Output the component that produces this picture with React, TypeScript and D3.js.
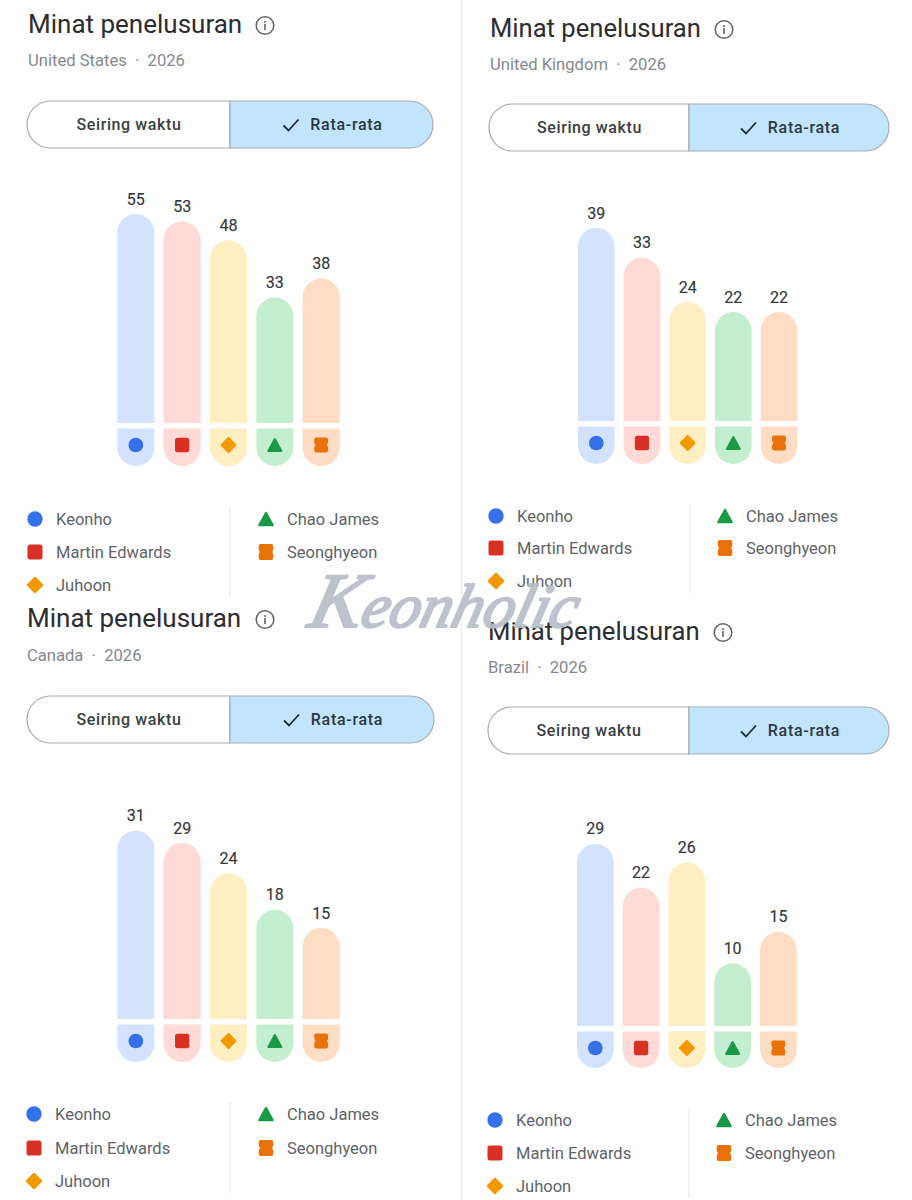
import React from "react";
import * as d3 from "d3";

const names = ["Keonho", "Martin Edwards", "Juhoon", "Chao James", "Seonghyeon"];
const barFills = ["#d3e3fd", "#ffdad6", "#feeec2", "#c4eed0", "#ffdcc4"];
const iconFills = ["#3470e8", "#d93025", "#f29900", "#1a9a45", "#e8710a"];
const countries = ["United States", "United Kingdom", "Canada", "Brazil"];
const usValues = [55, 53, 48, 33, 38];
const ukValues = [39, 33, 24, 22, 22];
const caValues = [31, 29, 24, 18, 15];
const brValues = [29, 22, 26, 10, 15];
const panelValues = [usValues, ukValues, caValues, brValues];
const FONT = "Roboto, 'Noto Sans', sans-serif";

type Layout = {
  x0: number; titleY: number; subY: number; tLeft: number; tRight: number; tTop: number; tBottom: number; split: number;
  barsL: number; barsR: number; base: number; capBottom: number; pxPerUnit: number;
  legendY: number[]; swatchX: number; col2X: number; divX: number; titleSize: number; infoOffset: number;
};
const layouts: Layout[] = [
  { x0: 28, titleY: 24, subY: 60, tLeft: 27, tRight: 433, tTop: 101, tBottom: 148, split: 230, barsL: 117.3, barsR: 339.7, base: 423, capBottom: 466, pxPerUnit: 3.8, legendY: [519, 552, 585], swatchX: 35, col2X: 266, divX: 230, titleSize: 26, infoOffset: 237 },
  { x0: 490, titleY: 28, subY: 64, tLeft: 489, tRight: 889, tTop: 104, tBottom: 151, split: 689, barsL: 578, barsR: 797.3, base: 421, capBottom: 464, pxPerUnit: 4.95, legendY: [516, 548, 581], swatchX: 496, col2X: 725, divX: 690, titleSize: 25.6, infoOffset: 234 },
  { x0: 27, titleY: 618, subY: 655, tLeft: 27, tRight: 434, tTop: 696, tBottom: 743, split: 230, barsL: 117.3, barsR: 339.7, base: 1019, capBottom: 1062, pxPerUnit: 6.07, legendY: [1114, 1148, 1181], swatchX: 34, col2X: 266, divX: 230, titleSize: 26, infoOffset: 238 },
  { x0: 488, titleY: 631, subY: 667, tLeft: 488, tRight: 889, tTop: 707, tBottom: 754, split: 689, barsL: 577, barsR: 796.7, base: 1026, capBottom: 1068, pxPerUnit: 6.28, legendY: [1120, 1153, 1186], swatchX: 495, col2X: 724, divX: 689, titleSize: 25.7, infoOffset: 235 },
];

function topRounded(x: number, w: number, top: number, bottom: number) {
  const r = w / 2;
  return `M${x},${bottom}V${top + r}A${r},${r} 0 0 1 ${x + w},${top + r}V${bottom}Z`;
}
function bottomRounded(x: number, w: number, top: number, bottom: number) {
  const r = w / 2;
  return `M${x},${top}H${x + w}V${bottom - r}A${r},${r} 0 0 1 ${x},${bottom - r}Z`;
}

function Icon({ i, cx, cy, s = 1 }: { i: number; cx: number; cy: number; s?: number }) {
  const fill = iconFills[i];
  const common = { fill, stroke: fill, strokeLinejoin: "round" as const };
  if (i === 0) return <circle cx={cx} cy={cy} r={7.2 * s} fill={fill} />;
  if (i === 1) return <rect x={cx - 7 * s} y={cy - 7 * s} width={14 * s} height={14 * s} rx={2.5} fill={fill} />;
  if (i === 2) {
    const d = 6.8 * s;
    return <path d={`M${cx},${cy - d}L${cx + d},${cy}L${cx},${cy + d}L${cx - d},${cy}Z`} strokeWidth={2} {...common} />;
  }
  if (i === 3) {
    return <path d={`M${cx},${cy - 5.8 * s}L${cx + 6.4 * s},${cy + 5.8 * s}H${cx - 6.4 * s}Z`} strokeWidth={2} {...common} />;
  }
  const w = 6.8 * s, h = 7.4 * s, n = 1.4 * s;
  return (
    <path
      fill={fill}
      d={`M${cx - w},${cy - h + 2}Q${cx - w},${cy - h} ${cx - w + 2},${cy - h}H${cx + w - 2}Q${cx + w},${cy - h} ${cx + w},${cy - h + 2}V${cy - 3}Q${cx + w},${cy - 1} ${cx + w - n},${cy}Q${cx + w},${cy + 1} ${cx + w},${cy + 3}V${cy + h - 2}Q${cx + w},${cy + h} ${cx + w - 2},${cy + h}H${cx - w + 2}Q${cx - w},${cy + h} ${cx - w},${cy + h - 2}V${cy + 3}Q${cx - w},${cy + 1} ${cx - w + n},${cy}Q${cx - w},${cy - 1} ${cx - w},${cy - 3}Z`}
    />
  );
}

function Panel({ idx }: { idx: number }) {
  const L = layouts[idx];
  const values = panelValues[idx];
  const x = d3.scaleBand<number>().domain(d3.range(values.length)).range([L.barsL, L.barsR]).paddingInner(0.2).paddingOuter(0);
  const y = d3.scaleLinear().domain([0, 1]).range([L.base, L.base - L.pxPerUnit]);
  const w = x.bandwidth();
  const tMid = (L.tTop + L.tBottom) / 2;
  const tH = L.tBottom - L.tTop;
  const r = tH / 2;
  const leftD = `M${L.split},${L.tTop}H${L.tLeft + r}A${r},${r} 0 0 0 ${L.tLeft + r},${L.tBottom}H${L.split}Z`;
  const rightD = `M${L.split},${L.tTop}H${L.tRight - r}A${r},${r} 0 0 1 ${L.tRight - r},${L.tBottom}H${L.split}Z`;
  const infoX = L.x0 + L.infoOffset;
  const rightMid = (L.split + L.tRight) / 2;
  const rows = L.legendY;
  return (
    <g fontFamily={FONT}>
      <text x={L.x0} y={L.titleY} dy="0.36em" fontSize={L.titleSize} fill="#2b2d30">Minat penelusuran</text>
      <circle cx={infoX} cy={L.titleY + 1.5} r={8.8} fill="none" stroke="#5f6368" strokeWidth={1.5} />
      <circle cx={infoX} cy={L.titleY - 2} r={1} fill="#5f6368" />
      <rect x={infoX - 0.8} y={L.titleY} width={1.6} height={6} fill="#5f6368" />
      <text x={L.x0} y={L.subY} dy="0.36em" fontSize={16.6} fill="#85898e" style={{ whiteSpace: "pre" }}>{countries[idx]}{"  ·  "}2026</text>

      <path d={leftD} fill="#fff" stroke="#a8adb2" strokeWidth={1.2} />
      <path d={rightD} fill="#c2e4fd" stroke="#a8adb2" strokeWidth={1.2} />
      <text x={(L.tLeft + L.split) / 2 + 0.5} y={tMid} dy="0.36em" textAnchor="middle" fontSize={16} fontWeight={500} letterSpacing={0.6} fill="#3a3e42">Seiring waktu</text>
      <path d={`M${rightMid - 48},${tMid + 1}l5,5l10,-11`} fill="none" stroke="#1f2d3a" strokeWidth={1.8} />
      <text x={rightMid + 15} y={tMid} dy="0.36em" textAnchor="middle" fontSize={16} fontWeight={500} letterSpacing={0.7} fill="#2c3841">Rata-rata</text>

      {values.map((v, i) => {
        const bx = x(i)!;
        const cx = bx + w / 2;
        return (
          <g key={i}>
            <path d={topRounded(bx, w, y(v), L.base)} fill={barFills[i]} />
            <path d={bottomRounded(bx, w, L.base + 5.5, L.capBottom)} fill={barFills[i]} />
            <Icon i={i} cx={cx} cy={L.base + 22} s={1.02} />
            <text x={cx} y={y(v) - 15.2} dy="0.36em" textAnchor="middle" fontSize={16} fontWeight={400} fill="#33363a" stroke="#33363a" strokeWidth={0.15}>{v}</text>
          </g>
        );
      })}

      {names.map((n, i) => {
        const col2 = i >= 3;
        const sx = col2 ? L.col2X : L.swatchX;
        const cy = rows[col2 ? i - 3 : i];
        return (
          <g key={n}>
            <Icon i={i} cx={sx} cy={cy} s={1.07} />
            <text x={sx + 21} y={cy} dy="0.36em" fontSize={16.5} fill="#5f6368">{n}</text>
          </g>
        );
      })}
      <line x1={L.divX} x2={L.divX} y1={rows[0] - 12} y2={rows[2] + 12} stroke="#e8eaed" strokeWidth={1.2} />
    </g>
  );
}

export default function App() {
  return (
    <svg width={912} height={1200} style={{ position: "absolute", left: 0, top: 0, background: "#fefefe" }}>
      <line x1={461.5} x2={461.5} y1={0} y2={1200} stroke="#eef0f2" strokeWidth={1.5} />
      {layouts.map((_, i) => <Panel key={i} idx={i} />)}
      <text transform="translate(306,627) skewX(-14)" fontFamily="'Liberation Serif', serif" fontStyle="italic" fontWeight={400} fontSize={62} fill="#b9bdc8" stroke="#b9bdc8" strokeWidth={2.2} strokeLinejoin="round" textLength={268} lengthAdjust="spacingAndGlyphs" opacity={0.92}>
        <tspan fontSize={78}>K</tspan>eonholic
      </text>
    </svg>
  );
}
